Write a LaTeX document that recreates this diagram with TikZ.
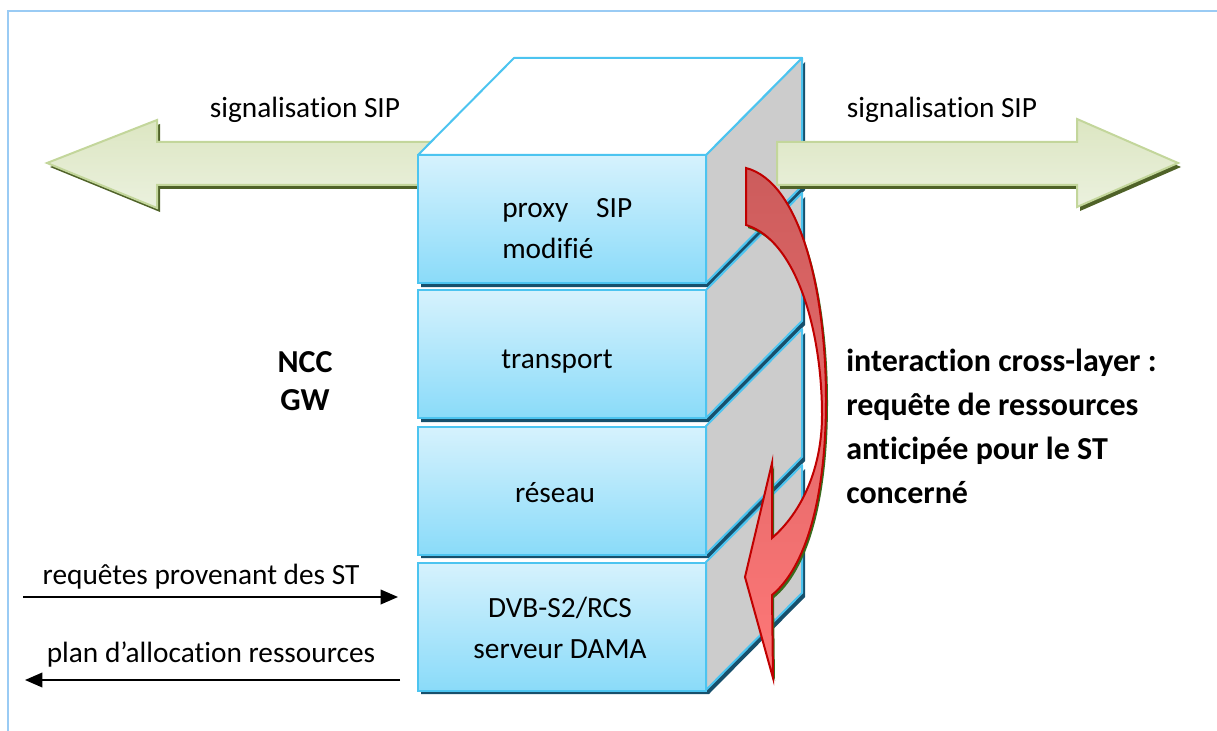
\documentclass[tikz,border=0pt]{standalone}
\usepackage{fontspec}
\setmainfont[Ligatures={NoCommon,NoRequired,NoContextual,NoRare}]{Carlito}
\usetikzlibrary{arrows.meta,calc,positioning}

\definecolor{layerline}{HTML}{4CC4F0}
\definecolor{layertop}{HTML}{D6F2FD}
\definecolor{layerbot}{HTML}{8ADBF9}
\definecolor{layershadow}{HTML}{17506C}
\definecolor{sidegrey}{HTML}{CCCCCC}
\definecolor{siptop}{HTML}{DCE6C2}
\definecolor{sipbot}{HTML}{EBF1DE}
\definecolor{sipline}{HTML}{C3D69B}
\definecolor{sipshadow}{HTML}{4F6228}
\definecolor{xlred}{HTML}{C00000}
\definecolor{xltop}{HTML}{CC5C5C}
\definecolor{xlmid}{HTML}{FF2424}
\definecolor{xlbot}{HTML}{FF7878}
\definecolor{xlshadow}{HTML}{3A6B1E}
\definecolor{framecol}{HTML}{9ACBF4}

\begin{document}
\begin{tikzpicture}[
  x=0.75pt,y=-0.75pt,
  >=Triangle,
  layer/.style={draw=layerline,line width=1.5pt,top color=layertop,bottom color=layerbot,minimum width=216pt,minimum height=96pt,inner sep=0pt},
  side/.style={fill=sidegrey,draw=layerline,line width=1.5pt,line join=round},
  sigarrow/.style={draw=sipline,line width=1.5pt,top color=siptop,bottom color=sipbot,line join=miter},
  xlarrow/.style={draw=xlred,line width=1.5pt,top color=xltop,middle color=xlmid,bottom color=xlbot,line join=miter},
  lab/.style={font=\fontsize{22}{30}\selectfont,inner sep=0pt},
  boldlab/.style={font=\bfseries\fontsize{24}{29}\selectfont,inner sep=0pt,align=center},
  note/.style={font=\bfseries\fontsize{24}{33}\selectfont,inner sep=0pt,align=left},
  msg/.style={->,line width=1.1pt,>={Triangle[length=13pt,width=11pt]}}
]
\useasboundingbox (0,0) rectangle (1217,731);
\draw[framecol,line width=1.5pt] (8,731) -- (8,11) -- (1217,11);

\fill[sipshadow,shift={(3,4)}] (500,142) -- (157,142) -- (157,120) -- (47,163) -- (157,208) -- (157,185) -- (500,185) -- cycle;
\path[sigarrow] (500,142) -- (157,142) -- (157,120) -- (47,163) -- (157,208) -- (157,185) -- (500,185) -- cycle;

\foreach \y in {155,290,426,562} {
  \fill[layershadow] (421,\y+4) -- (421,\y+132) -- (709,\y+132) -- (805,\y+35) -- (805,\y-93) -- (709,\y+4) -- cycle;
  \path[side] (706,\y) -- (802,\y-97) -- (802,\y+31) -- (706,\y+128) -- cycle;
}
\filldraw[fill=white,draw=layerline,line width=1.5pt,line join=round] (418,155) -- (514,58) -- (802,58) -- (706,155) -- cycle;

\node[layer] (proxy) at (562,219) {};
\node[layer] (transport) at (562,354) {};
\node[layer] (reseau) at (562,490.5) {};
\node[layer] (dama) at (562,626.5) {};

\node[lab,anchor=base west] (proxyname) at ($(proxy.center)+(-60,-2)$) {proxy\hspace{0.95em}SIP};
\node[lab,anchor=base west] (proxymod) at ($(proxy.center)+(-60,39)$) {modifié};
\node[lab,anchor=base] (transportname) at ($(transport.center)+(-5,14)$) {transport};
\node[lab,anchor=base] (reseauname) at ($(reseau.center)+(-7,11.5)$) {réseau};
\node[lab,anchor=base] (damaname) at ($(dama.center)+(-2,-9.5)$) {DVB-S2/RCS};
\node[lab,anchor=base] (damaserver) at ($(dama.center)+(-2,31.5)$) {serveur DAMA};

\fill[xlshadow,shift={(2,3)}] (746,168) .. controls (800,182) and (826,290) .. (826,400) .. controls (826,500) and (805,568) .. (772,595) -- (773,678) -- (745,577) -- (772,463) -- (772,538) .. controls (802,512) and (822,468) .. (822,415) .. controls (822,330) and (796,240) .. (746,225) -- cycle;
\path[xlarrow] (746,168) .. controls (800,182) and (826,290) .. (826,400) .. controls (826,500) and (805,568) .. (772,595) -- (773,678) -- (745,577) -- (772,463) -- (772,538) .. controls (802,512) and (822,468) .. (822,415) .. controls (822,330) and (796,240) .. (746,225) -- cycle;

\fill[sipshadow,shift={(3,4)}] (777,142) -- (1077,142) -- (1077,119) -- (1178,163) -- (1077,207) -- (1077,185) -- (777,185) -- cycle;
\path[sigarrow] (777,142) -- (1077,142) -- (1077,119) -- (1178,163) -- (1077,207) -- (1077,185) -- (777,185) -- cycle;

\node[lab] (sipleft) at (305,110) {signalisation SIP};
\node[lab] (sipright) at (942,110) {signalisation SIP};
\node[boldlab] (ncc) at (305,381) {NCC\\GW};
\node[note,anchor=west] (xlnote) at (846,426) {interaction cross-layer :\\requête de ressources\\anticipée pour le ST\\concerné};

\coordinate (reqin) at (23,597);
\coordinate (reqout) at (398,597);
\coordinate (planin) at (400,680);
\coordinate (planout) at (25,680);
\draw[msg] (reqin) -- (reqout);
\draw[msg] (planin) -- (planout);
\node[lab] (reqlab) at (201,577) {requêtes provenant des ST};
\node[lab] (planlab) at (211,655) {plan d’allocation ressources};
\end{tikzpicture}
\end{document}
